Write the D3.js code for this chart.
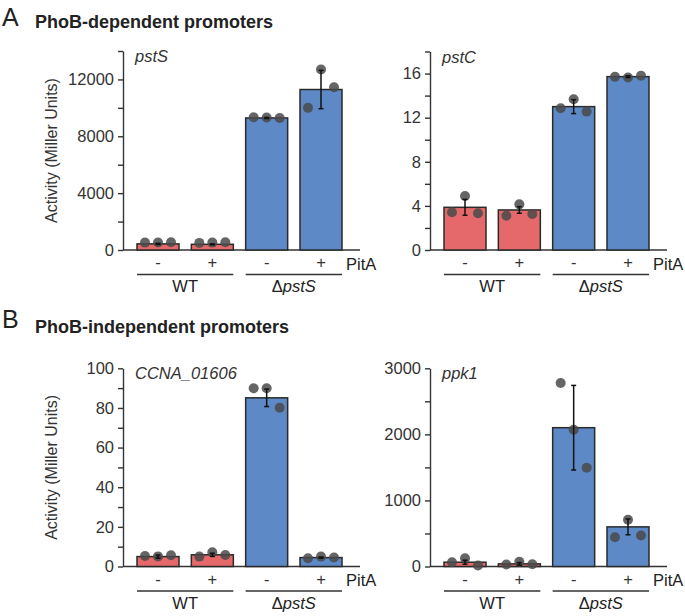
<!DOCTYPE html>
<html>
<head>
<meta charset="utf-8">
<script src="https://cdn.jsdelivr.net/npm/d3@7"></script>
<style>
  body { margin: 0; background: #fff; }
  svg { font-family: "Liberation Sans", Arial, Helvetica, sans-serif; }
  .tick text { font-size: 16.5px; fill: #333; }
</style>
</head>
<body>
<svg width="685" height="616"></svg>
<script>
// conditions along x, same in every panel
var conditions = ["WT -", "WT +", "pstS -", "pstS +"];
var pitA = ["-", "+", "-", "+"];
var strains = ["WT", "pstS"];

// pstS promoter
var pstSMean = [430, 400, 9290, 11290];
var pstSSd = [40, 30, 40, 1350];
var pstSReps = [[520, 530, 550], [500, 520, 540], [9340, 9320, 9290], [10000, 12700, 11450]];
var pstSTicks = [0, 4000, 8000, 12000];
var pstSMinor = [2000, 6000, 10000, 14000];

// pstC promoter
var pstCMean = [3.87, 3.63, 13.0, 15.72];
var pstCSd = [0.72, 0.3, 0.63, 0.08];
var pstCReps = [[3.42, 4.9, 3.33], [3.1, 4.14, 3.27], [12.85, 13.67, 12.55], [15.7, 15.65, 15.8]];
var pstCTicks = [0, 4, 8, 12, 16];
var pstCMinor = [2, 6, 10, 14, 18];

// CCNA_01606 promoter
var ccnaMean = [5.0, 5.9, 85.1, 4.5];
var ccnaSd = [0.8, 0.8, 4.4, 0.3];
var ccnaReps = [[5.3, 5.1, 5.7], [5.0, 7.2, 5.8], [89.9, 89.9, 80.1], [4.2, 5.0, 4.5]];
var ccnaTicks = [0, 20, 40, 60, 80, 100];
var ccnaMinor = [10, 30, 50, 70, 90];

// ppk1 promoter
var ppk1Mean = [65, 40, 2101, 600];
var ppk1Sd = [30, 20, 640, 120];
var ppk1Reps = [[65, 125, 15], [30, 72, 35], [2777, 2071, 1495], [444, 707, 470]];
var ppk1Ticks = [0, 1000, 2000, 3000];
var ppk1Minor = [500, 1500, 2500];

var red = "#e5696a", blue = "#5d89c7", ink = "#333";

var svg = d3.select("svg");

var panels = [
  {gene: "pstS", mean: pstSMean, sd: pstSSd, reps: pstSReps, ticks: pstSTicks, minor: pstSMinor, max: 14000, ax: 123, y0: 250, top: 51, ylab: true},
  {gene: "pstC", mean: pstCMean, sd: pstCSd, reps: pstCReps, ticks: pstCTicks, minor: pstCMinor, max: 18, ax: 430, y0: 250, top: 51.5, ylab: false},
  {gene: "CCNA_01606", mean: ccnaMean, sd: ccnaSd, reps: ccnaReps, ticks: ccnaTicks, minor: ccnaMinor, max: 100, ax: 123, y0: 566.5, top: 368.3, ylab: true},
  {gene: "ppk1", mean: ppk1Mean, sd: ppk1Sd, reps: ppk1Reps, ticks: ppk1Ticks, minor: ppk1Minor, max: 3000, ax: 430, y0: 566.5, top: 368.3, ylab: false}
];

function drawPanel(p) {
  var g = svg.append("g");

  var y = d3.scaleLinear().domain([0, p.max]).range([p.y0, p.top]);
  var x = d3.scaleBand().domain(conditions)
      .range([p.ax + 14, p.ax + 219])
      .paddingInner(0.227);
  var bw = x.bandwidth();

  // minor ticks first, no labels
  g.append("g")
      .attr("transform", "translate(" + p.ax + ",0)")
      .call(d3.axisLeft(y).tickValues(p.minor).tickSize(5).tickFormat(""))
      .call(function(a) { a.select(".domain").remove(); });

  g.append("g")
      .attr("transform", "translate(" + p.ax + ",0)")
      .call(d3.axisLeft(y).tickValues(p.ticks).tickFormat(d3.format("d"))
        .tickSize(5).tickSizeOuter(0).tickPadding(4));
  g.selectAll(".domain, .tick line").attr("stroke", ink).attr("stroke-width", 1.4);

  // x baseline
  g.append("line")
      .attr("x1", p.ax).attr("x2", p.ax + 237)
      .attr("y1", p.y0).attr("y2", p.y0)
      .attr("stroke", ink).attr("stroke-width", 1.4);

  // bars
  g.selectAll("rect.bar")
    .data(p.mean)
    .enter().append("rect")
      .attr("class", "bar")
      .attr("x", function(d, i) { return x(conditions[i]); })
      .attr("y", function(d) { return y(d); })
      .attr("width", bw)
      .attr("height", function(d) { return p.y0 - y(d); })
      .attr("fill", function(d, i) { return i < 2 ? red : blue; })
      .attr("stroke", "#2a2a2a")
      .attr("stroke-width", 1.5);

  // replicate dots
  var offs = [-13, 0, 13];
  p.reps.forEach(function(r, i) {
    var cx = x(conditions[i]) + bw / 2;
    g.selectAll(null)
      .data(r)
      .enter().append("circle")
        .attr("cx", function(d, j) { return cx + offs[j]; })
        .attr("cy", function(d) { return y(d); })
        .attr("r", 5)
        .attr("fill", "#4a4a4a")
        .attr("fill-opacity", 0.85);
  });

  // error bars (mean +- sd)
  p.mean.forEach(function(m, i) {
    var cx = x(conditions[i]) + bw / 2;
    var lo = y(m - p.sd[i]), hi = y(m + p.sd[i]);
    g.append("line").attr("x1", cx).attr("x2", cx).attr("y1", lo).attr("y2", hi)
        .attr("stroke", "#111").attr("stroke-width", 1.5);
    [lo, hi].forEach(function(v) {
      g.append("line").attr("x1", cx - 2.5).attr("x2", cx + 2.5).attr("y1", v).attr("y2", v)
          .attr("stroke", "#111").attr("stroke-width", 1.5);
    });
  });

  // gene name
  g.append("text")
      .attr("x", p.ax + 12).attr("y", p.top + 11)
      .attr("font-size", 16.5).attr("font-style", "italic").attr("fill", ink)
      .text(p.gene);

  // PitA +/- row
  g.selectAll("text.pm")
    .data(pitA)
    .enter().append("text")
      .attr("class", "pm")
      .attr("x", function(d, i) { return x(conditions[i]) + bw / 2; })
      .attr("y", p.y0 + 18)
      .attr("text-anchor", "middle")
      .attr("font-size", 16.5).attr("fill", ink)
      .text(function(d) { return d; });

  g.append("text")
      .attr("x", p.ax + 223).attr("y", p.y0 + 19.5)
      .attr("font-size", 16.5).attr("fill", "#222")
      .text("PitA");

  // strain groups
  strains.forEach(function(s, k) {
    var x1 = x(conditions[2 * k]), x2 = x(conditions[2 * k + 1]) + bw;
    g.append("line")
        .attr("x1", x1).attr("x2", x2)
        .attr("y1", p.y0 + 24.5).attr("y2", p.y0 + 24.5)
        .attr("stroke", ink).attr("stroke-width", 1.3);
    var t = g.append("text")
        .attr("x", (x1 + x2) / 2).attr("y", p.y0 + 42)
        .attr("text-anchor", "middle")
        .attr("font-size", 16.5).attr("fill", "#222");
    if (k === 0) {
      t.text(s);
    } else {
      t.append("tspan").text("\u0394");
      t.append("tspan").attr("font-style", "italic").text(s);
    }
  });

  if (p.ylab) {
    g.append("text")
        .attr("transform", "translate(57," + (p.y0 + p.top) / 2 + ") rotate(-90)")
        .attr("text-anchor", "middle")
        .attr("font-size", 16).attr("fill", ink)
        .text("Activity (Miller Units)");
  }
}

panels.forEach(drawPanel);

// panel letters and headings
var heads = [
  {letter: "A", title: "PhoB-dependent promoters", y: 26, ty: 28},
  {letter: "B", title: "PhoB-independent promoters", y: 328, ty: 333}
];
heads.forEach(function(h) {
  svg.append("text").attr("x", 2).attr("y", h.y)
      .attr("font-size", 25).attr("fill", "#222").text(h.letter);
  svg.append("text").attr("x", 35).attr("y", h.ty)
      .attr("font-size", 18).attr("font-weight", "bold").attr("fill", "#222").text(h.title);
});
</script>
</body>
</html>
